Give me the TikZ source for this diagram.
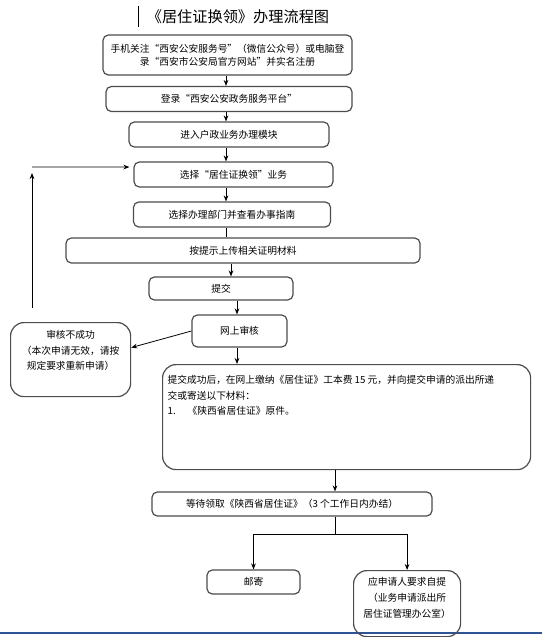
\documentclass[tikz,border=0pt]{standalone}
\usepackage{fontspec}
\setmainfont{Noto Sans CJK SC}
\usetikzlibrary{arrows.meta}
\newlength{\pxu}
\setlength{\pxu}{0.75pt}
\definecolor{wordblue}{RGB}{47,84,150}
\tikzset{
  stepbox/.style={draw=black!70, line width=0.9pt, rounded corners=4pt, inner sep=0pt, align=center, font=\fontsize{7.3}{10}\selectfont},
  bigbox/.style={stepbox, rounded corners=10pt, anchor=north west},
}

\begin{document}
\begin{tikzpicture}[x=0.75pt,y=-0.75pt,>={Stealth[length=4.5pt,width=3.5pt]},line width=0.6pt]
    \useasboundingbox (0,0) rectangle (542,637);
    \clip (0,0) rectangle (542,637);
    \draw[wordblue, line width=1.1pt] (0,633) -- (542,633);
    \node[font=\fontsize{11.4}{14}\selectfont] (title) at (238,17) {《居住证换领》办理流程图};
    \draw[line width=0.7pt] (138,6) -- (138,27);
    % steps
    \node[stepbox, minimum width=249\pxu, minimum height=40\pxu] (reg) at (227.5,55) {手机关注“西安公安服务号”（微信公众号）或电脑登\\录“西安市公安局官方网站”并实名注册};
    \node[stepbox, minimum width=246\pxu, minimum height=25\pxu] (login) at (229,99) {登录“西安公安政务服务平台”};
    \node[stepbox, minimum width=200\pxu, minimum height=25\pxu] (hz) at (229,134.5) {进入户政业务办理模块};
    \node[stepbox, minimum width=199\pxu, minimum height=25\pxu] (xz) at (233.5,174.5) {选择“居住证换领”业务};
    \node[stepbox, minimum width=197\pxu, minimum height=25\pxu] (bm) at (232,214.5) {选择办理部门并查看办事指南};
    \node[stepbox, minimum width=354\pxu, minimum height=25\pxu] (sc) at (243,250.5) {按提示上传相关证明材料};
    \node[stepbox, minimum width=144\pxu, minimum height=23\pxu] (tj) at (221,288.5) {提交};
    \node[stepbox, minimum width=95\pxu, minimum height=32\pxu] (sh) at (239.5,331) {网上审核};
    \node[bigbox, minimum width=120\pxu, minimum height=74\pxu] (fail) at (10,322) {\parbox[t][74\pxu][t]{120\pxu}{\centering\baselineskip=11.6pt\vspace*{6pt}审核不成功\\（本次申请无效，请按\\规定要求重新申请）}};
    \node[bigbox, minimum width=368\pxu, minimum height=105\pxu] (ok) at (162,364) {\parbox[t][105\pxu][t]{368\pxu}{\raggedright\leftskip=5\pxu\baselineskip=11.6pt\vspace*{8pt}提交成功后，在网上缴纳《居住证》工本费 15 元，并向提交申请的派出所递\\交或寄送以下材料：\\1.\hspace{9pt}《陕西省居住证》原件。}};
    \node[stepbox, minimum width=280\pxu, minimum height=24\pxu] (wait) at (292,504) {等待领取《陕西省居住证》（3 个工作日内办结）};
    \node[stepbox, minimum width=93\pxu, minimum height=24\pxu] (mail) at (253.5,582) {邮寄};
    \node[bigbox, minimum width=107\pxu, minimum height=66\pxu] (self) at (353,570) {\parbox[t][66\pxu][t]{107\pxu}{\centering\baselineskip=12pt\vspace*{5pt}应申请人要求自提\\（业务申请派出所\\居住证管理办公室）}};
    % arrows
    \coordinate (ax) at (226,0);
    \coordinate (bx) at (231,0);
    \coordinate (cx) at (237,0);
    \draw[->] (reg.south -| ax) -- (login.north -| ax);
    \draw[->] (login.south -| ax) -- (hz.north -| ax);
    \draw[->] (hz.south -| ax) -- (xz.north -| ax);
    \draw[->] (xz.south -| ax) -- (bm.north -| ax);
    \draw (bm.south -| ax) -- (sc.north -| ax);
    \draw[->] (sc.south -| bx) -- (tj.north -| bx);
    \draw[->] (tj.south -| cx) -- (sh.north -| cx);
    \draw[->] (sh.south -| cx) -- (ok.north -| cx);
    \draw[->] (sh.west) -- ([yshift=9pt]fail.east);
    \coordinate (back) at (32,308);
    \coordinate (backtop) at (32,173);
    \coordinate (backleft) at (32,167);
    \draw[->] (back) -- (backtop);
    \draw[->] (backleft) -- ([xshift=-3pt,yshift=5.6pt]xz.west);
    \coordinate (fork) at (335,534);
    \draw[->] (ok.south -| fork) -- (wait.north -| fork);
    \draw (wait.south -| fork) -- (fork);
    \draw[->] (fork) -| (mail.north);
    \draw[->] (fork) -| (self.north);
\end{tikzpicture}
\end{document}
